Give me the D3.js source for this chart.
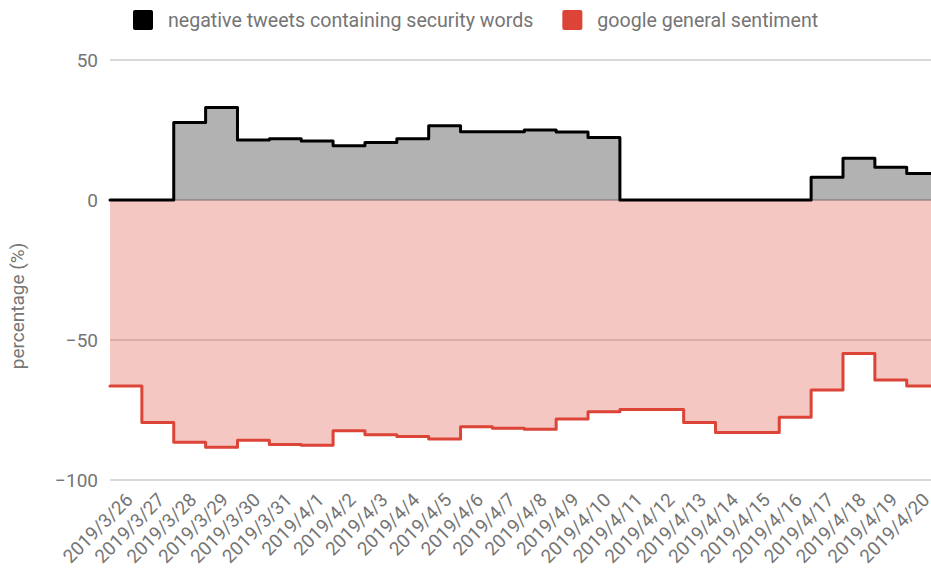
<!DOCTYPE html>
<html>
<head>
<meta charset="utf-8">
<script src="https://cdn.jsdelivr.net/npm/d3@7"></script>
<style>
  html, body { margin: 0; padding: 0; background: #fff; overflow: hidden; }
  svg { display: block; font-family: Roboto, "Noto Sans", sans-serif; }
</style>
</head>
<body>
<svg id="chart" width="931" height="570"></svg>
<script>
// Daily categories
const dates = [
  '2019/3/26', '2019/3/27', '2019/3/28', '2019/3/29', '2019/3/30', '2019/3/31',
  '2019/4/1', '2019/4/2', '2019/4/3', '2019/4/4', '2019/4/5', '2019/4/6',
  '2019/4/7', '2019/4/8', '2019/4/9', '2019/4/10', '2019/4/11', '2019/4/12',
  '2019/4/13', '2019/4/14', '2019/4/15', '2019/4/16', '2019/4/17', '2019/4/18',
  '2019/4/19', '2019/4/20'
];

// Share of negative tweets that contain security words (%)
const negativeSecurity = [
  0, 0, 27.7, 33.0, 21.4, 21.9,
  21.1, 19.4, 20.5, 21.9, 26.5, 24.4,
  24.4, 25.0, 24.3, 22.3, 0, 0,
  0, 0, 0, 0, 8.1, 14.9,
  11.7, 9.5
];

// Overall sentiment about Google (%)
const googleSentiment = [
  -66.4, -79.5, -86.5, -88.3, -85.8, -87.3,
  -87.6, -82.4, -83.8, -84.5, -85.4, -81.0,
  -81.5, -81.9, -78.2, -75.6, -74.8, -74.8,
  -79.5, -83.0, -83.0, -77.6, -67.9, -54.8,
  -64.3, -66.4
];

const yTicks = [50, 0, -50, -100];
const seriesNames = ['negative tweets containing security words', 'google general sentiment'];
const seriesColors = ['#000000', '#db4437'];
const yTitle = 'percentage (%)';

const svg = d3.select('#chart');
const plot = { left: 110, right: 938.6, top: 60, bottom: 480 };
const textColor = '#757575';
const fontSize = 19;

const x = d3.scaleBand().domain(dates).range([plot.left, plot.right]).padding(0);
const y = d3.scaleLinear().domain([-100, 50]).range([plot.bottom, plot.top]);

// Gridlines
svg.append('g')
  .selectAll('line')
  .data(yTicks.filter(d => d !== 0))
  .join('line')
  .attr('x1', plot.left).attr('x2', plot.right)
  .attr('y1', d => y(d)).attr('y2', d => y(d))
  .attr('stroke', '#cccccc').attr('stroke-width', 1.4);

// Y axis tick labels
const yAxis = d3.axisLeft(y).tickValues(yTicks).tickSize(0).tickPadding(12);
const yAxisG = svg.append('g').attr('transform', `translate(${plot.left},0)`).call(yAxis);
yAxisG.select('.domain').remove();
yAxisG.selectAll('text')
  .attr('fill', textColor)
  .style('font-size', fontSize + 'px')
  .style('font-family', 'Roboto, sans-serif');

// Stepped series: each value spans its whole day band
function stepPoints(values) {
  const pts = values.map((v, i) => [x(dates[i]), v]);
  pts.push([x(dates[dates.length - 1]) + x.bandwidth(), values[values.length - 1]]);
  return pts;
}

const area = d3.area()
  .x(d => d[0]).y0(y(0)).y1(d => y(d[1]))
  .curve(d3.curveStepAfter);
const line = d3.line()
  .x(d => d[0]).y(d => y(d[1]))
  .curve(d3.curveStepAfter);

const series = [negativeSecurity, googleSentiment];

series.forEach((vals, i) => {
  svg.append('path')
    .datum(stepPoints(vals))
    .attr('d', area)
    .attr('fill', seriesColors[i])
    .attr('fill-opacity', 0.3);
});

// Zero baseline
svg.append('line')
  .attr('x1', plot.left).attr('x2', plot.right)
  .attr('y1', y(0)).attr('y2', y(0))
  .attr('stroke', '#7a6a6a').attr('stroke-width', 1);

series.forEach((vals, i) => {
  svg.append('path')
    .datum(stepPoints(vals))
    .attr('d', line)
    .attr('fill', 'none')
    .attr('stroke', seriesColors[i])
    .attr('stroke-width', 3)
    .attr('stroke-linejoin', 'round')
    .attr('stroke-linecap', 'round');
});

// X axis labels, slanted
const xAxis = d3.axisBottom(x).tickSize(0).tickPadding(0);
const xAxisG = svg.append('g').attr('transform', `translate(0,${plot.bottom})`).call(xAxis);
xAxisG.select('.domain').remove();
xAxisG.selectAll('text')
  .attr('fill', textColor)
  .style('font-size', '18.8px')
  .style('font-family', 'Roboto, sans-serif')
  .attr('text-anchor', 'end')
  .attr('dy', 0)
  .attr('y', 0)
  .attr('transform', 'translate(8,21) rotate(-45)');

// Y axis title
svg.append('text')
  .attr('transform', `translate(24,${(plot.top + plot.bottom) / 2 + 36}) rotate(-90)`)
  .attr('text-anchor', 'middle')
  .attr('fill', textColor)
  .style('font-size', fontSize + 'px')
  .text(yTitle);

// Legend
const legend = svg.append('g').attr('transform', 'translate(133,10)');
let lx = 0;
seriesNames.forEach((name, i) => {
  const g = legend.append('g').attr('transform', `translate(${lx},0)`);
  g.append('rect')
    .attr('width', 20).attr('height', 20).attr('rx', 2)
    .attr('fill', seriesColors[i]);
  const t = g.append('text')
    .attr('x', 35).attr('y', 17)
    .attr('fill', textColor)
    .style('font-size', '19.6px')
    .text(name);
  lx += 35 + t.node().getComputedTextLength() + 29;
});
</script>
</body>
</html>
